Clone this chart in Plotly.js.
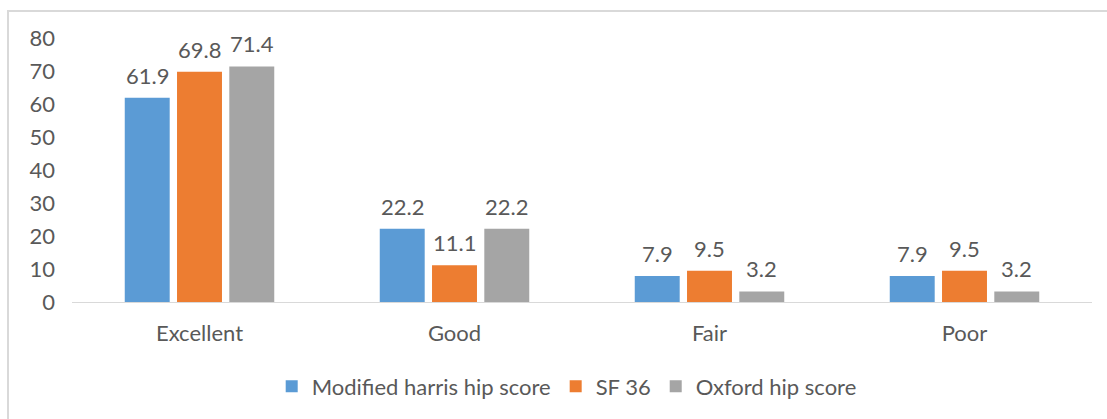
<!DOCTYPE html>
<html>
<head>
<meta charset="utf-8">
<script src="https://cdn.plot.ly/plotly-3.0.1.min.js"></script>
<style>
  html, body { margin: 0; padding: 0; background: #ffffff; }
  #wrap { position: relative; width: 1107px; height: 419px; overflow: hidden; }
  #chart { position: absolute; left: 0; top: 0; width: 1107px; height: 419px; }
  #frame { position: absolute; left: 7px; top: 10px; width: 1200px; height: 500px;
           border: 2px solid #d9d9d9; pointer-events: none; }
</style>
</head>
<body>
<div id="wrap">
  <div id="chart"></div>
  <div id="frame"></div>
</div>
<script>
const categories = ["Excellent", "Good", "Fair", "Poor"];
const seriesNames = ["Modified harris hip score", "SF 36", "Oxford hip score"];
const harrisValues = [61.9, 22.2, 7.9, 7.9];
const sf36Values = [69.8, 11.1, 9.5, 9.5];
const oxfordValues = [71.4, 22.2, 3.2, 3.2];
const yTickValues = [0, 10, 20, 30, 40, 50, 60, 70, 80];

const colors = ["#5B9BD5", "#ED7D31", "#A5A5A5"];
const allValues = [harrisValues, sf36Values, oxfordValues];
const fontFamily = "Lato, 'Liberation Sans', Arial, sans-serif";
const textColor = "#595959";

const W = 1107, H = 419;
const margin = { l: 72, r: 15, t: 38, b: 117 };
const bargap = 0.385;
const bargroupgap = 0.14;

const traces = allValues.map((vals, i) => ({
  type: "bar",
  name: seriesNames[i],
  x: categories,
  y: vals,
  marker: { color: colors[i] },
  hoverinfo: "none"
}));

// value labels placed above each bar (offset derived from bar group geometry)
const plotWidth = W - margin.l - margin.r;
const catWidth = plotWidth / categories.length;
const slotWidth = catWidth * (1 - bargap) / allValues.length;
const annotations = [];
allValues.forEach((vals, i) => {
  vals.forEach((v, j) => {
    annotations.push({
      x: categories[j],
      y: v,
      xref: "x",
      yref: "y",
      text: v.toFixed(1),
      showarrow: false,
      xanchor: "center",
      yanchor: "bottom",
      xshift: (i - (allValues.length - 1) / 2) * slotWidth,
      yshift: 7,
      font: { family: fontFamily, size: 22, color: textColor }
    });
  });
});

const layout = {
  width: W,
  height: H,
  margin: margin,
  paper_bgcolor: "rgba(0,0,0,0)",
  plot_bgcolor: "rgba(0,0,0,0)",
  barmode: "group",
  bargap: bargap,
  bargroupgap: bargroupgap,
  font: { family: fontFamily, size: 22, color: textColor },
  showlegend: true,
  legend: {
    orientation: "h",
    x: 0.485,
    xanchor: "center",
    y: -0.24,
    yanchor: "top",
    font: { family: fontFamily, size: 22, color: textColor },
    traceorder: "normal"
  },
  annotations: annotations,
  xaxis: {
    type: "category",
    showline: true,
    linecolor: "#d9d9d9",
    linewidth: 1,
    showgrid: false,
    zeroline: false,
    ticks: "",
    ticklabelstandoff: 12,
    tickfont: { family: fontFamily, size: 22, color: textColor }
  },
  yaxis: {
    range: [0, 80],
    tickvals: yTickValues,
    ticktext: yTickValues.map(String),
    showline: false,
    showgrid: false,
    zeroline: false,
    ticks: "",
    ticklabelstandoff: 16,
    tickfont: { family: fontFamily, size: 22, color: textColor }
  }
};

Plotly.newPlot("chart", traces, layout, { staticPlot: true, displayModeBar: false });
</script>
</body>
</html>
